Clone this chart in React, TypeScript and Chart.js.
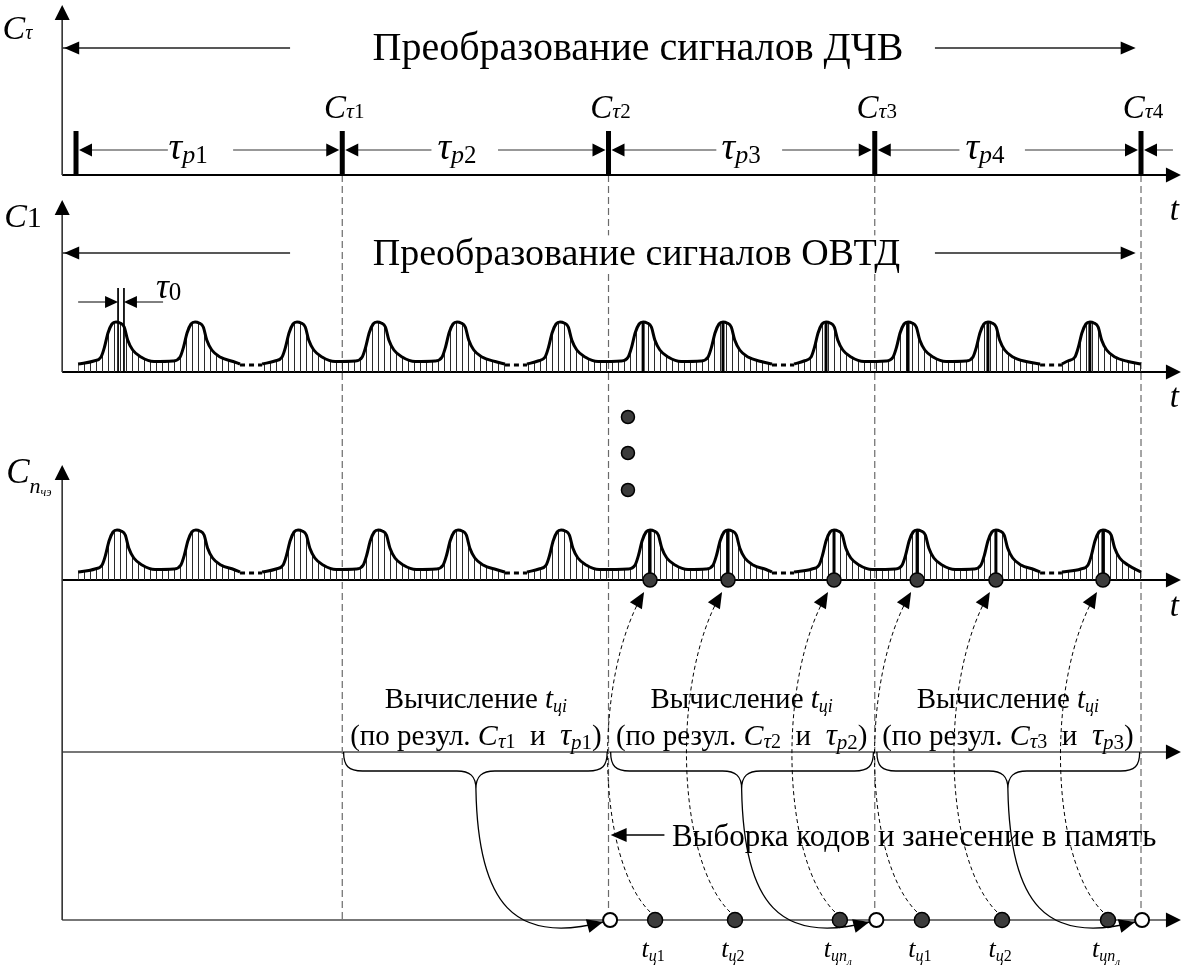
import React, { useEffect, useRef } from "react";
import { Chart, registerables } from "chart.js";

Chart.register(...registerables);

// ---------- data (time axis: 1 unit = one τp interval, Cτ instants at integer times) ----------
const X_RANGE = [-0.2855, 4.1765];
const Y_RANGE = [0, 970]; // vertical layout units, top to bottom

const AXIS_T = -0.052;
const AXIS_END_T = 4.15;

const C_TAU_TIMES = [0, 1, 2, 3, 4];
const C_TAU_NUMBERS = ["", "1", "2", "3", "4"];
const TAU_P_NUMBERS = ["1", "2", "3", "4"];
const TAU_P_LABEL_T = [0.421, 1.431, 2.498, 3.414];
const TAU_P_GAPS = [
  [0.345, 0.59],
  [1.335, 1.585],
  [2.405, 2.652],
  [3.318, 3.564],
];
const TAIL_END_T = 4.12;

const TITLE_ARROWS_T = [0.804, 3.226, 3.98];

const PEAKS_OVTD = [0.15, 0.447, 0.83, 1.131, 1.431, 1.818, 2.13, 2.43, 2.817, 3.125, 3.425, 3.808];
const PEAKS_CH = [0.154, 0.45, 0.834, 1.135, 1.435, 1.822, 2.156, 2.449, 2.847, 3.159, 3.455, 3.857];
const HATCH_SEGMENTS = [
  [0.008, 0.616],
  [0.699, 1.611],
  [1.694, 2.614],
  [2.697, 3.621],
  [3.703, 4.0],
];
const PEAK_SHAPE_DT = [-0.083, -0.056, -0.043, -0.03, -0.015, 0, 0.015, 0.031, 0.044, 0.063, 0.094, 0.143];
const PEAK_SHAPE_H = [11, 15, 25, 39, 48, 50, 49, 45, 32, 22, 15, 10.5];
const FLOOR_H = 8;
const BOLD_PEAK_FROM = 6;

const TAU0_T = [0.158, 0.18];
const TAU0_ARROW_ENDS = [0.008, 0.327];

const SAMPLE_T = [2.156, 2.449, 2.847, 3.159, 3.455, 3.857];
const ELLIPSIS_T = 2.073;
const ELLIPSIS_Y = [417, 453, 490];

const CALC_SPANS = [
  [1.005, 1.995],
  [2.008, 2.995],
  [3.008, 3.995],
];
const CALC_CENTRES = [1.502, 2.5, 3.5];
const CALC_NUMBERS = ["1", "2", "3"];
const STORE_T = [2.006, 3.006, 4.004];
const RESULT_T = [2.175, 2.475, 2.869, 3.177, 3.478, 3.876];
const RESULT_SUBS = ["1", "2", "n", "1", "2", "n"];
const MEMORY_ARROW_T = [2.008, 2.21];

// vertical layout levels
const L = {
  p1Top: 5, p1Base: 175, p1Title: 48, barTop: 131, dim: 150, cTauLabel: 118,
  p2Top: 200, p2Base: 372, p2Title: 253, tau0Top: 288, tau0Arrow: 302,
  p3Top: 465, p3Base: 580,
  calc: 752, brace: 771, cusp: 789, calcText1: 708, calcText2: 745,
  mem: 835, out: 920, outLabel: 957,
};

const SERIF = "'Liberation Serif', 'DejaVu Serif', serif";

type Pt = { x: number; y: number | null };
type Run = { t: string; s: number; it?: boolean; dy?: number };

function segs(list: number[][]): Pt[] {
  const pts: Pt[] = [];
  for (const [x1, y1, x2, y2] of list) {
    pts.push({ x: x1, y: y1 }, { x: x2, y: y2 }, { x: x2, y: null });
  }
  return pts;
}

function curveSegment(peaks: number[], seg: number[], base: number): Pt[] {
  const pts: { x: number; y: number }[] = [{ x: seg[0], y: base - FLOOR_H }];
  for (const p of peaks) {
    for (let i = 0; i < PEAK_SHAPE_DT.length; i++) {
      const t = p + PEAK_SHAPE_DT[i];
      if (t > seg[0] + 0.004 && t < seg[1] - 0.004) pts.push({ x: t, y: base - PEAK_SHAPE_H[i] });
    }
  }
  pts.push({ x: seg[1], y: base - FLOOR_H });
  pts.sort((a, b) => a.x - b.x);
  return pts;
}

function drawRuns(ctx: CanvasRenderingContext2D, runs: Run[], x: number, y: number, align: string, bg = false) {
  const font = (r: Run) => `${r.it ? "italic " : ""}${r.s}px ${SERIF}`;
  let total = 0;
  for (const r of runs) {
    ctx.font = font(r);
    total += ctx.measureText(r.t).width;
  }
  let cx = align === "center" ? x - total / 2 : align === "right" ? x - total : x;
  if (bg) {
    const h = Math.max(...runs.map((r) => r.s));
    ctx.fillStyle = "#fff";
    ctx.fillRect(cx - 4, y - h * 0.78, total + 8, h * 0.98);
  }
  ctx.fillStyle = "#000";
  ctx.textBaseline = "alphabetic";
  ctx.textAlign = "left";
  for (const r of runs) {
    ctx.font = font(r);
    ctx.fillText(r.t, cx, y + (r.dy || 0));
    cx += ctx.measureText(r.t).width;
  }
}

function arrowHead(ctx: CanvasRenderingContext2D, x: number, y: number, ang: number, len = 15, half = 6.5) {
  ctx.save();
  ctx.translate(x, y);
  ctx.rotate(ang);
  ctx.beginPath();
  ctx.moveTo(0, 0);
  ctx.lineTo(-len, -half);
  ctx.lineTo(-len, half);
  ctx.closePath();
  ctx.fillStyle = "#000";
  ctx.fill();
  ctx.restore();
}

const schematic = {
  id: "schematic",
  afterDatasetsDraw(chart: any) {
    const ctx: CanvasRenderingContext2D = chart.ctx;
    const X = (v: number) => chart.scales.x.getPixelForValue(v);
    const Y = (v: number) => chart.scales.y.getPixelForValue(v);
    const R = 0;
    const LEFT = Math.PI;
    const UP = -Math.PI / 2;
    ctx.save();

    // ----- arrowheads -----
    for (const y of [L.p1Top, L.p2Top, L.p3Top]) arrowHead(ctx, X(AXIS_T), Y(y), UP, 15, 7.5);
    for (const y of [L.p1Base, L.p2Base, L.p3Base, L.calc, L.out]) arrowHead(ctx, X(AXIS_END_T), Y(y), R, 15, 7.5);
    for (const y of [L.p1Title, L.p2Title]) {
      arrowHead(ctx, X(AXIS_T) + 2, Y(y), LEFT, 15, 6.5);
      arrowHead(ctx, X(TITLE_ARROWS_T[2]), Y(y), R, 15, 6.5);
    }
    for (let k = 0; k < TAU_P_NUMBERS.length; k++) {
      arrowHead(ctx, X(C_TAU_TIMES[k]) + 3, Y(L.dim), LEFT, 13, 6.5);
      arrowHead(ctx, X(C_TAU_TIMES[k + 1]) - 3, Y(L.dim), R, 13, 6.5);
    }
    arrowHead(ctx, X(C_TAU_TIMES[4]) + 3, Y(L.dim), LEFT, 13, 6.5);
    arrowHead(ctx, X(TAU0_T[0]), Y(L.tau0Arrow), R, 13, 6);
    arrowHead(ctx, X(TAU0_T[1]), Y(L.tau0Arrow), LEFT, 13, 6);
    arrowHead(ctx, X(MEMORY_ARROW_T[0]), Y(L.mem), LEFT, 16, 7);

    // ----- braces and solid connectors -----
    ctx.strokeStyle = "#000";
    ctx.lineWidth = 1.3;
    for (let k = 0; k < CALC_SPANS.length; k++) {
      const xa = X(CALC_SPANS[k][0]);
      const xb = X(CALC_SPANS[k][1]);
      const xc = X(CALC_CENTRES[k]);
      const y0 = Y(L.calc);
      const y1 = Y(L.brace);
      const y2 = Y(L.cusp);
      const r = 19;
      ctx.beginPath();
      ctx.moveTo(xa, y0);
      ctx.bezierCurveTo(xa, y0 + 14, xa + 5, y1, xa + r, y1);
      ctx.lineTo(xc - r, y1);
      ctx.bezierCurveTo(xc - 6, y1, xc, y1 + 5, xc, y2);
      ctx.bezierCurveTo(xc, y1 + 5, xc + 6, y1, xc + r, y1);
      ctx.lineTo(xb - r, y1);
      ctx.bezierCurveTo(xb - 5, y1, xb, y0 + 14, xb, y0);
      ctx.stroke();

      const xs = X(STORE_T[k]) - 7;
      const ys = Y(L.out) + 2;
      const c2x = xc + 39;
      const c2y = Y(L.out) + 25;
      ctx.beginPath();
      ctx.moveTo(xc, y2);
      ctx.bezierCurveTo(xc + 2, y2 + 116, c2x, c2y, xs, ys);
      ctx.stroke();
      arrowHead(ctx, xs, ys, Math.atan2(ys - c2y, xs - c2x), 16, 7);
    }

    // ----- dashed connectors: result codes -> sampled peaks -----
    ctx.lineWidth = 1;
    ctx.setLineDash([4, 3]);
    for (let i = 0; i < RESULT_T.length; i++) {
      const xr = X(RESULT_T[i]);
      const xsm = X(SAMPLE_T[i]);
      const p0 = [xr - 5, Y(L.out) - 8];
      const c1 = [xr - 58, Y(L.out) - 60];
      const c2 = [xsm - 58, Y(L.p3Base) + 100];
      const p3 = [xsm - 6, Y(L.p3Base) + 12];
      ctx.beginPath();
      ctx.moveTo(p0[0], p0[1]);
      ctx.bezierCurveTo(c1[0], c1[1], c2[0], c2[1], p3[0], p3[1]);
      ctx.stroke();
    }
    ctx.setLineDash([]);
    for (let i = 0; i < RESULT_T.length; i++) {
      const xsm = X(SAMPLE_T[i]);
      const c2 = [xsm - 58, Y(L.p3Base) + 100];
      const p3 = [xsm - 6, Y(L.p3Base) + 12];
      arrowHead(ctx, p3[0], p3[1], Math.atan2(p3[1] - c2[1], p3[0] - c2[0]), 16, 7);
    }

    // ----- texts -----
    drawRuns(ctx, [{ t: "Преобразование сигналов ДЧВ", s: 40 }], X(2.111), Y(L.p1Title) + 12, "center", true);
    drawRuns(ctx, [{ t: "Преобразование сигналов ОВТД", s: 38 }], X(2.105), Y(L.p2Title) + 12, "center", true);

    drawRuns(ctx, [{ t: "C", s: 34, it: true }, { t: "τ", s: 20, it: true }], X(-0.276), Y(39), "left");
    drawRuns(ctx, [{ t: "C", s: 34, it: true }, { t: "1", s: 30 }], X(-0.27), Y(227), "left");
    drawRuns(
      ctx,
      [
        { t: "C", s: 35, it: true },
        { t: "n", s: 22, it: true, dy: 10 },
        { t: "чэ", s: 12, it: true, dy: 13 },
      ],
      X(-0.262),
      Y(483),
      "left"
    );
    for (const y of [220, 407, 616]) drawRuns(ctx, [{ t: "t", s: 33, it: true }], X(4.125), Y(y), "center");

    for (let k = 1; k < C_TAU_TIMES.length; k++) {
      drawRuns(
        ctx,
        [
          { t: "C", s: 33, it: true },
          { t: "τ", s: 22, it: true },
          { t: C_TAU_NUMBERS[k], s: 21 },
        ],
        X(C_TAU_TIMES[k]) + 2,
        Y(L.cTauLabel),
        "center"
      );
    }
    for (let k = 0; k < TAU_P_NUMBERS.length; k++) {
      drawRuns(
        ctx,
        [
          { t: "τ", s: 38, it: true },
          { t: "p", s: 26, it: true, dy: 4 },
          { t: TAU_P_NUMBERS[k], s: 25, dy: 4 },
        ],
        X(TAU_P_LABEL_T[k]),
        Y(L.dim) + 9,
        "center"
      );
    }
    drawRuns(ctx, [{ t: "τ", s: 36, it: true }, { t: "0", s: 25, dy: 2 }], X(0.3), Y(298), "left");

    for (let k = 0; k < CALC_CENTRES.length; k++) {
      const n = CALC_NUMBERS[k];
      drawRuns(
        ctx,
        [
          { t: "Вычисление ", s: 29 },
          { t: "t", s: 29, it: true },
          { t: "цi", s: 18, it: true, dy: 4 },
        ],
        X(CALC_CENTRES[k]),
        Y(L.calcText1),
        "center"
      );
      drawRuns(
        ctx,
        [
          { t: "(по резул. ", s: 29 },
          { t: "C", s: 30, it: true },
          { t: "τ", s: 21, it: true, dy: 3 },
          { t: n, s: 20, dy: 3 },
          { t: "  и  ", s: 29 },
          { t: "τ", s: 31, it: true },
          { t: "p", s: 21, it: true, dy: 4 },
          { t: n, s: 21, dy: 4 },
          { t: ")", s: 29 },
        ],
        X(CALC_CENTRES[k]),
        Y(L.calcText2),
        "center"
      );
    }
    drawRuns(ctx, [{ t: "Выборка кодов и занесение в память", s: 31 }], X(2.238), Y(L.mem) + 11, "left");

    for (let i = 0; i < RESULT_T.length; i++) {
      const sub = RESULT_SUBS[i];
      const runs: Run[] = [
        { t: "t", s: 26, it: true },
        { t: "ц", s: 16, it: true, dy: 4 },
      ];
      if (sub === "n") {
        runs.push({ t: "n", s: 16, it: true, dy: 4 }, { t: "л", s: 11, it: true, dy: 8 });
      } else {
        runs.push({ t: sub, s: 16, dy: 4 });
      }
      drawRuns(ctx, runs, X(RESULT_T[i]) - 2, Y(L.outLabel), "center");
    }
    ctx.restore();
  },
};

export default function App() {
  const ref = useRef<HTMLCanvasElement>(null);

  useEffect(() => {
    const canvas = ref.current!;
    const pc = document.createElement("canvas");
    pc.width = 6;
    pc.height = 2;
    const pctx = pc.getContext("2d")!;
    pctx.fillStyle = "#2a2a2a";
    pctx.fillRect(0, 0, 1, 2);
    const hatch = canvas.getContext("2d")!.createPattern(pc, "repeat")!;

    const base = { pointRadius: 0, fill: false, tension: 0, spanGaps: false, borderCapStyle: "butt" };
    const datasets: any[] = [];

    // dashed verticals at Cτ instants
    datasets.push({
      ...base,
      order: 20,
      data: segs(
        C_TAU_TIMES.slice(1).map((t, i) => [t, L.p1Base, t, i === 0 ? L.out : L.out - 8])
      ),
      borderColor: "#6a6a6a",
      borderWidth: 1.2,
      borderDash: [7, 4],
    });

    // axes
    datasets.push({
      ...base,
      order: 10,
      data: segs([
        [AXIS_T, L.p1Top + 6, AXIS_T, L.p1Base],
        [AXIS_T, L.p2Top + 6, AXIS_T, L.p2Base],
        [AXIS_T, L.p3Top + 6, AXIS_T, L.out],
      ]),
      borderColor: "#333",
      borderWidth: 1.6,
    });
    datasets.push({
      ...base,
      order: 10,
      data: segs([
        [AXIS_T, L.p1Base, AXIS_END_T - 0.02, L.p1Base],
        [AXIS_T, L.p2Base, AXIS_END_T - 0.02, L.p2Base],
        [AXIS_T, L.p3Base, AXIS_END_T - 0.02, L.p3Base],
      ]),
      borderColor: "#000",
      borderWidth: 1.8,
    });
    datasets.push({
      ...base,
      order: 10,
      data: segs([
        [AXIS_T, L.calc, AXIS_END_T - 0.02, L.calc],
        [AXIS_T, L.out, AXIS_END_T - 0.02, L.out],
      ]),
      borderColor: "#777",
      borderWidth: 2,
    });

    // title arrows
    datasets.push({
      ...base,
      order: 10,
      data: segs([
        [AXIS_T, L.p1Title, TITLE_ARROWS_T[0], L.p1Title],
        [TITLE_ARROWS_T[1], L.p1Title, TITLE_ARROWS_T[2] - 0.03, L.p1Title],
        [AXIS_T, L.p2Title, TITLE_ARROWS_T[0], L.p2Title],
        [TITLE_ARROWS_T[1], L.p2Title, TITLE_ARROWS_T[2] - 0.03, L.p2Title],
      ]),
      borderColor: "#222",
      borderWidth: 1.4,
    });

    // τp dimension lines
    const dim: number[][] = [];
    for (let k = 0; k < TAU_P_NUMBERS.length; k++) {
      dim.push([C_TAU_TIMES[k] + 0.03, L.dim, TAU_P_GAPS[k][0], L.dim]);
      dim.push([TAU_P_GAPS[k][1], L.dim, C_TAU_TIMES[k + 1] - 0.03, L.dim]);
    }
    dim.push([C_TAU_TIMES[4] + 0.03, L.dim, TAIL_END_T, L.dim]);
    datasets.push({ ...base, order: 10, data: segs(dim), borderColor: "#333", borderWidth: 1.2 });

    // Cτ marker bars
    datasets.push({
      ...base,
      order: 5,
      data: segs(C_TAU_TIMES.map((t) => [t, L.barTop, t, L.p1Base])),
      borderColor: "#000",
      borderWidth: 5,
    });

    // τ0 dimension
    datasets.push({
      ...base,
      order: 5,
      data: segs([
        [TAU0_T[0], L.tau0Top, TAU0_T[0], L.p2Base],
        [TAU0_T[1], L.tau0Top, TAU0_T[1], L.p2Base],
        [TAU0_ARROW_ENDS[0], L.tau0Arrow, TAU0_T[0] - 0.03, L.tau0Arrow],
        [TAU0_T[1] + 0.03, L.tau0Arrow, TAU0_ARROW_ENDS[1], L.tau0Arrow],
      ]),
      borderColor: "#000",
      borderWidth: 1,
    });

    // memory arrow line
    datasets.push({
      ...base,
      order: 5,
      data: segs([[MEMORY_ARROW_T[0] + 0.03, L.mem, MEMORY_ARROW_T[1], L.mem]]),
      borderColor: "#000",
      borderWidth: 1.3,
    });

    // pulse curves (hatched) for the two lower panels
    const panels = [
      { peaks: PEAKS_OVTD, b: L.p2Base },
      { peaks: PEAKS_CH, b: L.p3Base },
    ];
    for (const p of panels) {
      for (const seg of HATCH_SEGMENTS) {
        datasets.push({
          data: curveSegment(p.peaks, seg, p.b),
          order: 4,
          borderColor: "#000",
          borderWidth: 3,
          pointRadius: 0,
          backgroundColor: hatch,
          fill: { value: p.b },
          cubicInterpolationMode: "monotone",
        });
      }
      const gaps: number[][] = [];
      for (let i = 0; i < HATCH_SEGMENTS.length - 1; i++) {
        gaps.push([HATCH_SEGMENTS[i][1], p.b - FLOOR_H + 1, HATCH_SEGMENTS[i + 1][0], p.b - FLOOR_H + 1]);
      }
      datasets.push({ ...base, order: 4, data: segs(gaps), borderColor: "#000", borderWidth: 3, borderDash: [5, 4] });
      datasets.push({
        ...base,
        order: 3,
        data: segs(p.peaks.slice(BOLD_PEAK_FROM).map((t) => [t, p.b - PEAK_SHAPE_H[5], t, p.b])),
        borderColor: "#000",
        borderWidth: 3,
      });
    }

    // dots
    const dot = {
      showLine: false,
      pointRadius: 7,
      pointBackgroundColor: "#3c3c3c",
      pointBorderColor: "#000",
      pointBorderWidth: 1.5,
      order: 0,
    };
    datasets.push({ ...dot, data: SAMPLE_T.map((t) => ({ x: t, y: L.p3Base })) });
    datasets.push({ ...dot, pointRadius: 6.5, data: ELLIPSIS_Y.map((y) => ({ x: ELLIPSIS_T, y })) });
    datasets.push({ ...dot, pointRadius: 7.5, data: RESULT_T.map((t) => ({ x: t, y: L.out })) });
    datasets.push({
      ...dot,
      pointBackgroundColor: "#fff",
      pointBorderWidth: 2,
      data: STORE_T.map((t) => ({ x: t, y: L.out })),
    });

    const chart = new Chart(canvas, {
      type: "line",
      data: { datasets },
      options: {
        responsive: false,
        animation: false,
        events: [],
        layout: { padding: 0, autoPadding: false },
        plugins: { legend: { display: false }, tooltip: { enabled: false } },
        scales: {
          x: { type: "linear", min: X_RANGE[0], max: X_RANGE[1], display: false },
          y: { type: "linear", min: Y_RANGE[0], max: Y_RANGE[1], reverse: true, display: false },
        },
      },
      plugins: [schematic],
    } as any);
    return () => chart.destroy();
  }, []);

  return (
    <div style={{ position: "absolute", left: 0, top: 0, width: 1188, height: 970, background: "#fff" }}>
      <canvas ref={ref} width={1188} height={970} style={{ display: "block", width: 1188, height: 970 }} />
    </div>
  );
}
